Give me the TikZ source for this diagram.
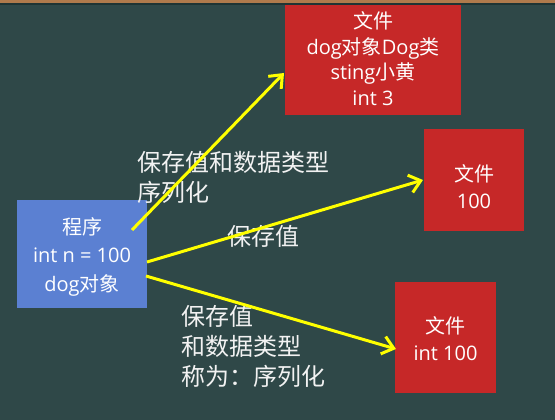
\documentclass[tikz,border=0pt]{standalone}
\usepackage{fontspec}
\setmainfont{Noto Sans CJK SC}
\newfontfamily\lat{Open Sans}
\usetikzlibrary{arrows.meta}
\definecolor{board}{HTML}{2F4848}
\definecolor{boxblue}{HTML}{5B80D2}
\definecolor{boxred}{HTML}{C62828}
\definecolor{arrowyellow}{HTML}{FFFF00}
\definecolor{woodframe}{HTML}{B07A4C}
\definecolor{frameshadow}{HTML}{1F3434}
\tikzset{
  bluebox/.style={fill=boxblue, draw=none, inner sep=0pt},
  redbox/.style={fill=boxred, draw=none, inner sep=0pt},
  boxtext/.style={text=white, align=center, inner sep=0pt, font=\fontsize{20}{27}\selectfont},
  labeltext/.style={text=white!95!black, align=left, inner sep=0pt, anchor=west, font=\fontsize{24}{30}\selectfont},
  yarrow/.style={draw=arrowyellow, line width=3pt, -{Straight Barb[length=11pt,width=18pt]}},
}
\begin{document}
\begin{tikzpicture}[x=1pt,y=-1pt]
\fill[board] (0,0) rectangle (555,420);
\useasboundingbox (0,0) rectangle (555,420);

% boxes
\node[bluebox, minimum width=130pt, minimum height=108pt] (prog) at (82,254) {};
\node[boxtext, font=\fontsize{20}{28.5}\selectfont] (progtext) at (82,256.5) {程序\\{\lat int n = 100}\\{\lat dog}对象};

\node[redbox, minimum width=176pt, minimum height=113pt] (file1) at (373,58.5) {};
\node[boxtext, font=\fontsize{20}{25.7}\selectfont] (file1text) at (373,58.5) {文件\\{\lat dog}对象{\lat Dog}类\\{\lat sting}小黄\\{\lat int 3}};

\node[redbox, minimum width=100pt, minimum height=102pt] (file2) at (474,180) {};
\node[boxtext] (file2text) at (474,186.5) {文件\\{\lat 100}};

\node[redbox, minimum width=101pt, minimum height=111pt] (file3) at (445.5,337.5) {};
\node[boxtext] (file3text) at (445.5,338.5) {文件\\{\lat int 100}};

% frame strip at top
\fill[woodframe] (0,0) rectangle (555,3.5);
\fill[frameshadow] (0,3.5) rectangle (555,5);

% labels
\node[labeltext] (labA) at (137,177) {保存值和数据类型\\序列化};
\node[labeltext, anchor=center] (labB) at (263,236) {保存值};
\node[labeltext] (labC) at (181,346) {保存值\\和数据类型\\称为：序列化};

% connector end points
\coordinate (s1) at (132,230);
\coordinate (s2) at (147,262);
\coordinate (s3) at (146,276);
\coordinate (e1) at (284,73);
\coordinate (e2) at (423,180);
\coordinate (e3) at (396,349);

\draw[yarrow] (s1) -- (e1);
\draw[yarrow] (s2) -- (e2);
\draw[yarrow] (s3) -- (e3);
\end{tikzpicture}
\end{document}
